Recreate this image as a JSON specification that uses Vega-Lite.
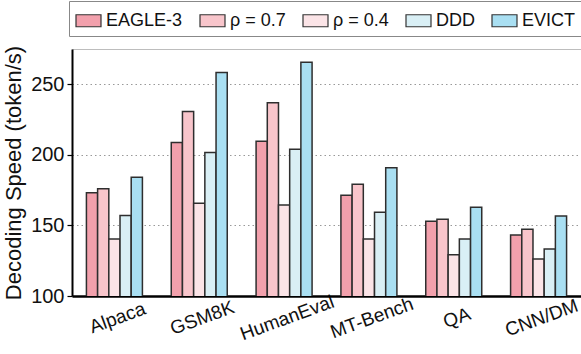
{
  "$schema": "https://vega.github.io/schema/vega-lite/v6.json",
  "width": 509,
  "height": 247,
  "autosize": "none",
  "padding": {"left": 72, "top": 49, "right": 0, "bottom": 58},
  "config": {"font": "Liberation Sans", "view": {"stroke": "#bdbdbd", "strokeWidth": 1}},
  "data": {"values": [
    {"dataset": "Alpaca", "method": "EAGLE-3", "speed": 173.2},
    {"dataset": "Alpaca", "method": "ρ = 0.7", "speed": 176},
    {"dataset": "Alpaca", "method": "ρ = 0.4", "speed": 140.4},
    {"dataset": "Alpaca", "method": "DDD", "speed": 157},
    {"dataset": "Alpaca", "method": "EVICT", "speed": 184.2},
    {"dataset": "GSM8K", "method": "EAGLE-3", "speed": 208.7},
    {"dataset": "GSM8K", "method": "ρ = 0.7", "speed": 230.7},
    {"dataset": "GSM8K", "method": "ρ = 0.4", "speed": 165.7},
    {"dataset": "GSM8K", "method": "DDD", "speed": 201.6},
    {"dataset": "GSM8K", "method": "EVICT", "speed": 258.4},
    {"dataset": "HumanEval", "method": "EAGLE-3", "speed": 209.7},
    {"dataset": "HumanEval", "method": "ρ = 0.7", "speed": 237},
    {"dataset": "HumanEval", "method": "ρ = 0.4", "speed": 164.5},
    {"dataset": "HumanEval", "method": "DDD", "speed": 204},
    {"dataset": "HumanEval", "method": "EVICT", "speed": 265.7},
    {"dataset": "MT-Bench", "method": "EAGLE-3", "speed": 171.4},
    {"dataset": "MT-Bench", "method": "ρ = 0.7", "speed": 179.2},
    {"dataset": "MT-Bench", "method": "ρ = 0.4", "speed": 140.4},
    {"dataset": "MT-Bench", "method": "DDD", "speed": 159.3},
    {"dataset": "MT-Bench", "method": "EVICT", "speed": 190.8},
    {"dataset": "QA", "method": "EAGLE-3", "speed": 153},
    {"dataset": "QA", "method": "ρ = 0.7", "speed": 154.4},
    {"dataset": "QA", "method": "ρ = 0.4", "speed": 129.3},
    {"dataset": "QA", "method": "DDD", "speed": 140.4},
    {"dataset": "QA", "method": "EVICT", "speed": 162.9},
    {"dataset": "CNN/DM", "method": "EAGLE-3", "speed": 143.2},
    {"dataset": "CNN/DM", "method": "ρ = 0.7", "speed": 147.3},
    {"dataset": "CNN/DM", "method": "ρ = 0.4", "speed": 126.2},
    {"dataset": "CNN/DM", "method": "DDD", "speed": 133.3},
    {"dataset": "CNN/DM", "method": "EVICT", "speed": 156.7}
  ]},
  "mark": {"type": "bar", "stroke": "#2e2e2e", "strokeWidth": 1.5, "clip": true},
  "encoding": {
    "x": {
      "field": "dataset", "type": "nominal",
      "sort": ["Alpaca", "GSM8K", "HumanEval", "MT-Bench", "QA", "CNN/DM"],
      "scale": {"paddingInner": 0.34, "paddingOuter": 0.17},
      "axis": {"title": null, "labelAngle": -20, "labelFontSize": 19, "labelColor": "#111", "ticks": false,
               "domainColor": "#000", "domainWidth": 2.5, "labelPadding": 13, "labelAlign": "center", "labelBaseline": "top"}
    },
    "xOffset": {
      "field": "method", "type": "nominal",
      "sort": ["EAGLE-3", "ρ = 0.7", "ρ = 0.4", "DDD", "EVICT"],
      "scale": {"paddingInner": 0, "paddingOuter": 0}
    },
    "y": {
      "field": "speed", "type": "quantitative",
      "scale": {"domain": [100, 275], "zero": false, "nice": false},
      "axis": {"values": [100, 150, 200, 250], "title": "Decoding Speed (token/s)", "titleFontSize": 22,
               "titleFontWeight": "normal", "titleColor": "#111", "labelFontSize": 20, "labelColor": "#111",
               "grid": true, "gridDash": [1.5, 3], "gridColor": "#999", "domainColor": "#000", "domainWidth": 2,
               "tickColor": "#000", "tickSize": 5, "tickWidth": 1.2, "labelPadding": 3, "titlePadding": 5}
    },
    "color": {
      "field": "method", "type": "nominal",
      "sort": ["EAGLE-3", "ρ = 0.7", "ρ = 0.4", "DDD", "EVICT"],
      "scale": {"domain": ["EAGLE-3", "ρ = 0.7", "ρ = 0.4", "DDD", "EVICT"],
                "range": ["#F2A0AC", "#F8C5CB", "#FBE4E7", "#D9EFF5", "#A9DFF2"]},
      "legend": {
        "orient": "none", "legendX": -3, "legendY": -48, "direction": "horizontal", "columns": 5,
        "title": null, "labelFontSize": 18, "labelColor": "#111",
        "symbolType": "M-1,-0.48H1V0.48H-1Z", "symbolSize": 625, "symbolStrokeColor": "#333",
        "symbolStrokeWidth": 1.2, "symbolOpacity": 1, "strokeColor": "#888", "fillColor": "#fff",
        "padding": 6, "columnPadding": 14, "labelOffset": 4
      }
    }
  }
}
